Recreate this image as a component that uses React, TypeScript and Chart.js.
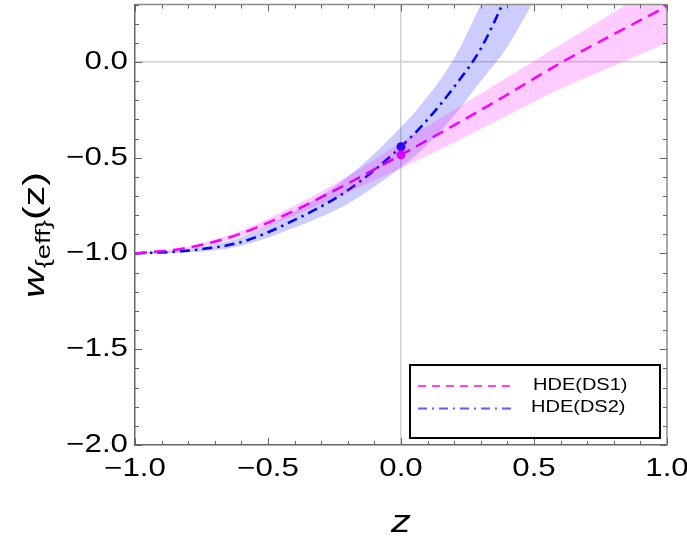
import { useEffect, useRef } from 'react';
import { Chart, registerables } from 'chart.js';
Chart.register(...registerables);

// ---- data ----
const zPink = [-1, -0.8, -0.6, -0.4, -0.2, 0, 0.2, 0.4, 0.6, 0.8, 1];
const pinkMid = [-1, -0.97, -0.895, -0.775, -0.635, -0.485, -0.33, -0.17, -0.005, 0.145, 0.29];
const pinkUpper = [-1, -0.965, -0.88, -0.75, -0.595, -0.42, -0.25, -0.08, 0.09, 0.26, 0.43];
const pinkLower = [-1, -0.975, -0.91, -0.8, -0.68, -0.555, -0.42, -0.28, -0.14, -0.02, 0.1];

const zBlue = [-1, -0.8, -0.6, -0.4, -0.2, 0, 0.1, 0.2, 0.3, 0.4, 0.5];
const blueMid = [-1, -0.985, -0.94, -0.825, -0.67, -0.443, -0.3, -0.13, 0.07, 0.36, 0.7];
const blueUpper = [-1, -0.975, -0.915, -0.78, -0.6, -0.34, -0.18, 0.02, 0.3, 0.6, 0.95];
const blueLower = [-1, -0.995, -0.96, -0.865, -0.74, -0.55, -0.43, -0.28, -0.1, 0.08, 0.32];

const dotZ = [0];
const pinkDot = [-0.485];
const blueDot = [-0.443];

const xTickValues = [-1, -0.5, 0, 0.5, 1];
const yTickValues = [-2, -1.5, -1, -0.5, 0];
const legendLabels = ['HDE(DS1)', 'HDE(DS2)'];

const X_MIN = -1, X_MAX = 1, Y_MIN = -2, Y_MAX = 0.3;

const pts = (xs: number[], ys: number[]) => xs.map((x, i) => ({ x, y: ys[i] }));
const fmt = (v: number) => v.toFixed(1).replace('-', '\u2212');
const FONT = '"Liberation Sans", Arial, sans-serif';

function drawText(ctx: CanvasRenderingContext2D, text: string, x: number, y: number, font: string, sx: number, align: CanvasTextAlign, baseline: CanvasTextBaseline) {
  ctx.save();
  ctx.translate(x, y);
  ctx.scale(sx, 1);
  ctx.font = font;
  ctx.textAlign = align;
  ctx.textBaseline = baseline;
  ctx.fillStyle = '#000';
  ctx.fillText(text, 0, 0);
  ctx.restore();
}

// y-axis title: rotated text pieces, stretched along the text direction by a common factor
function drawYTitle(ctx: CanvasRenderingContext2D, yBottom: number, totalLen: number) {
  const pieces = [
    { t: 'w', font: `italic 30px ${FONT}`, bx: 44 },
    { t: '{eff}', font: `20px ${FONT}`, bx: 50 },
    { t: '(z)', font: `30px ${FONT}`, bx: 44 },
  ];
  const widths = pieces.map(p => { ctx.font = p.font; return ctx.measureText(p.t).width; });
  const sum = widths.reduce((a, b) => a + b, 0);
  const k = totalLen / sum;
  let pos = yBottom;
  pieces.forEach((p, i) => {
    ctx.save();
    ctx.translate(p.bx, pos);
    ctx.rotate(-Math.PI / 2);
    ctx.scale(k, 1);
    ctx.font = p.font;
    ctx.textAlign = 'left';
    ctx.textBaseline = 'alphabetic';
    ctx.fillStyle = '#000';
    ctx.fillText(p.t, 0, 0);
    ctx.restore();
    pos -= widths[i] * k;
  });
}

const decor = {
  id: 'decor',
  afterDatasetsDraw(chart: any) {
    const { ctx, chartArea: a, scales } = chart;
    const xs = scales.x, ys = scales.y;
    ctx.save();
    ctx.strokeStyle = '#8c8c8c';
    ctx.lineWidth = 1.5;
    ctx.beginPath();
    ctx.moveTo(a.left, a.top); ctx.lineTo(a.right, a.top);
    ctx.moveTo(a.right, a.top); ctx.lineTo(a.right, a.bottom);
    ctx.stroke();
    ctx.strokeStyle = '#666';
    ctx.lineWidth = 1;
    ctx.beginPath();
    for (let i = -10; i <= 10; i++) {
      const v = i / 10;
      const len = i % 5 === 0 ? 7 : 4;
      const px = Math.round(xs.getPixelForValue(v)) + 0.5;
      ctx.moveTo(px, a.bottom); ctx.lineTo(px, a.bottom - len);
      ctx.moveTo(px, a.top); ctx.lineTo(px, a.top + len);
    }
    for (let i = -20; i <= 3; i++) {
      const v = i / 10;
      const len = i % 5 === 0 ? 7 : 4;
      const py = Math.round(ys.getPixelForValue(v)) + 0.5;
      ctx.moveTo(a.left, py); ctx.lineTo(a.left + len, py);
      ctx.moveTo(a.right, py); ctx.lineTo(a.right - len, py);
    }
    ctx.stroke();
    ctx.restore();
  },
  afterDraw(chart: any) {
    const { ctx, chartArea: a, scales } = chart;
    const xs = scales.x, ys = scales.y;
    yTickValues.forEach(v => drawText(ctx, fmt(v), 128, ys.getPixelForValue(v), `25px ${FONT}`, 1.25, 'right', 'middle'));
    xTickValues.forEach(v => drawText(ctx, fmt(v), xs.getPixelForValue(v), 469, `25px ${FONT}`, 1.25, 'center', 'middle'));
    drawText(ctx, 'z', (a.left + a.right) / 2, 532, `italic 32px ${FONT}`, 1.25, 'center', 'alphabetic');
    drawYTitle(ctx, 298, 126);
    ctx.save();
    ctx.fillStyle = '#fff';
    ctx.fillRect(410, 365, 250, 73);
    ctx.strokeStyle = '#000';
    ctx.lineWidth = 2;
    ctx.strokeRect(410, 365, 250, 73);
    ctx.lineWidth = 1.5;
    ctx.strokeStyle = '#ff00ff';
    ctx.setLineDash([8, 6]);
    ctx.beginPath(); ctx.moveTo(418, 386); ctx.lineTo(513, 386); ctx.stroke();
    ctx.strokeStyle = '#5c5cff';
    ctx.lineWidth = 2;
    ctx.setLineDash([9, 5, 2, 5]);
    ctx.beginPath(); ctx.moveTo(418, 408.5); ctx.lineTo(513, 408.5); ctx.stroke();
    ctx.restore();
    drawText(ctx, legendLabels[0], 533, 386, `16px ${FONT}`, 1.25, 'left', 'middle');
    drawText(ctx, legendLabels[1], 531, 408, `16px ${FONT}`, 1.25, 'left', 'middle');
  },
};

export default function App() {
  const ref = useRef<HTMLCanvasElement>(null);
  useEffect(() => {
    const canvas = ref.current!;
    const chart = new Chart(canvas, {
      type: 'line',
      data: {
        datasets: [
          { data: pts(zPink, pinkUpper), borderWidth: 0, pointRadius: 0, fill: '+1', backgroundColor: 'rgba(255,0,255,0.2)', cubicInterpolationMode: 'monotone', clip: 0 } as any,
          { data: pts(zPink, pinkLower), borderWidth: 0, pointRadius: 0, fill: false, cubicInterpolationMode: 'monotone', clip: 0 },
          { data: pts(zBlue, blueUpper), borderWidth: 0, pointRadius: 0, fill: '+1', backgroundColor: 'rgba(0,0,255,0.2)', cubicInterpolationMode: 'monotone', clip: 0 },
          { data: pts(zBlue, blueLower), borderWidth: 0, pointRadius: 0, fill: false, cubicInterpolationMode: 'monotone', clip: 0 },
          { data: pts(zPink, pinkMid), borderColor: '#ff00ff', borderWidth: 2.5, borderDash: [12, 7], pointRadius: 0, fill: false, cubicInterpolationMode: 'monotone', clip: 0 },
          { data: pts(zBlue, blueMid), borderColor: '#0000ff', borderWidth: 2.5, borderDash: [10, 5, 2.5, 5], pointRadius: 0, fill: false, cubicInterpolationMode: 'monotone', clip: 0 },
          { type: 'scatter', data: pts(dotZ, pinkDot), pointRadius: 4.5, pointBackgroundColor: '#ff00ff', pointBorderWidth: 0, showLine: false } as any,
          { type: 'scatter', data: pts(dotZ, blueDot), pointRadius: 4.5, pointBackgroundColor: '#0000ff', pointBorderWidth: 0, showLine: false } as any,
        ],
      },
      options: {
        animation: false,
        responsive: false,
        events: [],
        layout: { padding: { left: 0, top: 3, right: 20, bottom: 0 } },
        plugins: { legend: { display: false }, tooltip: { enabled: false }, filler: { propagate: false } },
        scales: {
          x: {
            type: 'linear', min: X_MIN, max: X_MAX,
            afterBuildTicks: (s: any) => { s.ticks = xTickValues.map(v => ({ value: v })); },
            afterFit: (s: any) => { s.height = 94; },
            ticks: { display: false },
            grid: { drawTicks: false, color: (c: any) => (c.tick && c.tick.value === 0 ? '#cfcfcf' : 'rgba(0,0,0,0)'), lineWidth: 1.5 },
            border: { display: true, color: '#666', width: 1.5 },
          },
          y: {
            type: 'linear', min: Y_MIN, max: Y_MAX,
            afterBuildTicks: (s: any) => { s.ticks = yTickValues.map(v => ({ value: v })); },
            afterFit: (s: any) => { s.width = 135; },
            ticks: { display: false },
            grid: { drawTicks: false, color: (c: any) => (c.tick && c.tick.value === 0 ? '#cfcfcf' : 'rgba(0,0,0,0)'), lineWidth: 1.5 },
            border: { display: true, color: '#666', width: 1.5 },
          },
        },
      } as any,
      plugins: [decor],
    });
    return () => chart.destroy();
  }, []);
  return (
    <div style={{ position: 'absolute', left: 0, top: 0, width: 687, height: 539, background: '#fff' }}>
      <canvas ref={ref} width={687} height={539} style={{ display: 'block' }} />
    </div>
  );
}
